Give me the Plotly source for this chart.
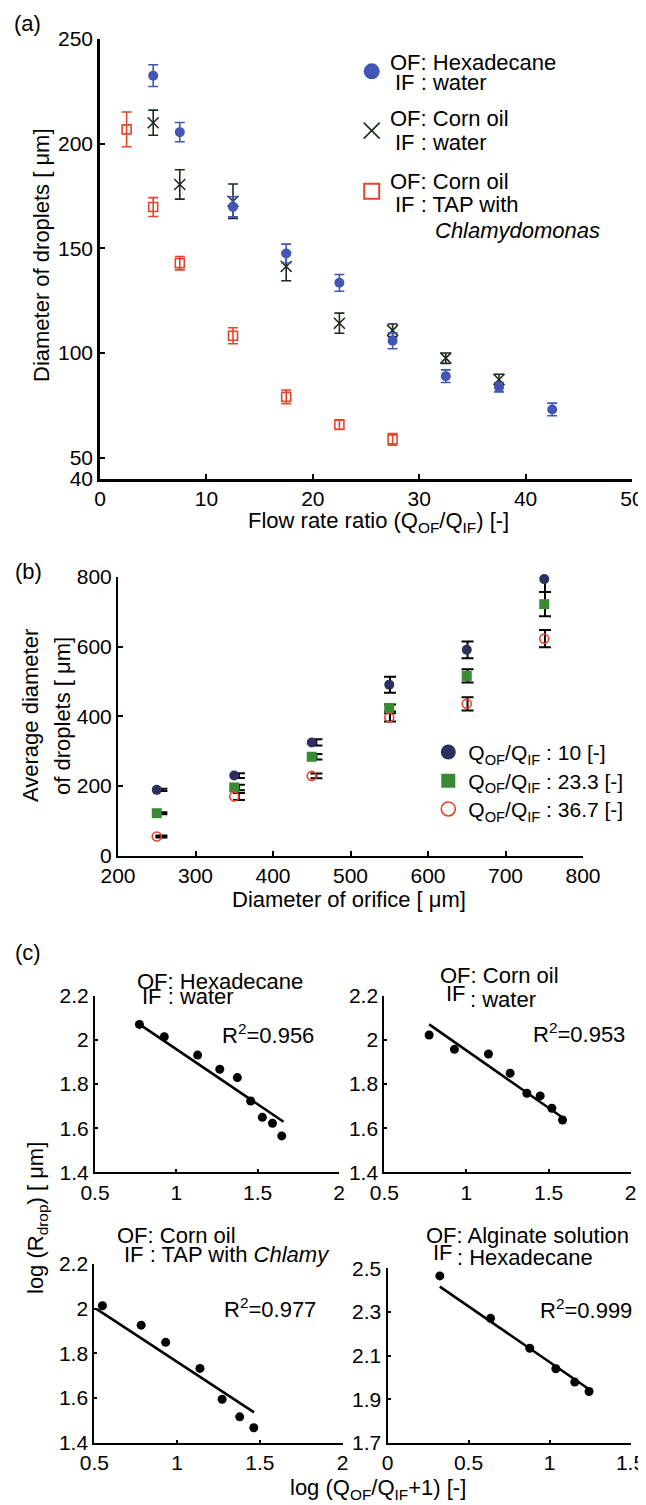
import plotly.graph_objects as go

# ---------------- data ----------------
# panel (a)
q_hex = [5, 7.5, 12.5, 17.5, 22.5, 27.5, 32.5, 37.5, 42.5]
d_hex = [232.5, 205.5, 169.8, 147.5, 133.5, 105.8, 88.9, 83.6, 73.0]
e_hex = [5.2, 4.6, 4.8, 4.5, 4.0, 3.8, 3.0, 2.2, 3.0]
q_corn = [5, 7.5, 12.5, 17.5, 22.5, 27.5, 32.5, 37.5]
d_corn = [210.0, 180.5, 172.5, 141.3, 114.2, 110.8, 97.5, 87.3]
e_corn = [6.0, 7.0, 8.2, 6.8, 4.8, 3.0, 2.5, 2.5]
q_tap = [2.5, 5, 7.5, 12.5, 17.5, 22.5, 27.5]
d_tap = [206.8, 169.7, 142.9, 108.2, 79.0, 65.7, 58.7]
e_tap = [8.3, 4.5, 3.2, 3.8, 3.3, 2.3, 2.8]

# panel (b)
orifice = [250, 350, 450, 550, 650, 750]
d_r10 = [189, 230, 325, 491, 591, 794]
e_r10 = [3, 7, 9, 23, 24, 37]
d_r23 = [122, 196, 284, 424, 516, 722]
e_r23 = [3, 8, 8, 10, 19, 35]
d_r37 = [55, 170, 229, 397, 436, 623]
e_r37 = [3, 10, 7, 12, 19, 25]

# panel (c)
c1_x = [0.773, 0.926, 1.131, 1.267, 1.375, 1.457, 1.529, 1.591, 1.648]
c1_y = [2.070, 2.014, 1.931, 1.867, 1.829, 1.723, 1.649, 1.622, 1.565]
c1_fit_x = [0.788, 1.659]
c1_fit_y = [2.063, 1.629]
c2_x = [0.773, 0.927, 1.134, 1.266, 1.368, 1.449, 1.520, 1.585]
c2_y = [2.022, 1.957, 1.936, 1.849, 1.758, 1.746, 1.690, 1.637]
c2_fit_x = [0.773, 1.591]
c2_fit_y = [2.070, 1.645]
c3_x = [0.549, 0.783, 0.931, 1.138, 1.272, 1.378, 1.463]
c3_y = [2.013, 1.926, 1.849, 1.732, 1.594, 1.515, 1.466]
c3_fit_x = [0.515, 1.465]
c3_fit_y = [1.998, 1.535]
c4_x = [0.323, 0.636, 0.878, 1.039, 1.156, 1.244]
c4_y = [2.465, 2.271, 2.134, 2.040, 1.979, 1.936]
c4_fit_x = [0.323, 1.249]
c4_fit_y = [2.416, 1.944]

# ---------------- style ----------------
PAGE_W, PAGE_H = 646, 1505
OFF = 8                      # default body margin of the html page
W, H = PAGE_W - OFF, PAGE_H - OFF
FONT = "Liberation Sans, Arial, Helvetica, sans-serif"
BLUE = "#4356B6"
DARK = "#1E2B1E"
RED = "#E8432D"
NAVY = "#2F2E5E"
GREEN = "#3A8A35"


def px(x):
    return (x - OFF) / W


def py(y):
    return 1 - (y - OFF) / H


fig = go.Figure()

# ---- panel (a) ----
fig.add_trace(go.Scatter(x=q_tap, y=d_tap, mode="markers", xaxis="x", yaxis="y",
                         marker=dict(symbol="square-open", size=9, color=RED, line=dict(width=1.6, color=RED)),
                         error_y=dict(type="data", array=e_tap, color=RED, thickness=1.6, width=5),
                         showlegend=False, cliponaxis=False))
fig.add_trace(go.Scatter(x=q_corn, y=d_corn, mode="markers", xaxis="x", yaxis="y",
                         marker=dict(symbol="x-thin", size=11, color=DARK, line=dict(width=1.6, color=DARK)),
                         error_y=dict(type="data", array=e_corn, color=DARK, thickness=1.6, width=5),
                         showlegend=False, cliponaxis=False))
fig.add_trace(go.Scatter(x=q_hex, y=d_hex, mode="markers", xaxis="x", yaxis="y",
                         marker=dict(symbol="circle", size=10, color=BLUE),
                         error_y=dict(type="data", array=e_hex, color=BLUE, thickness=1.6, width=5),
                         showlegend=False, cliponaxis=False))

# ---- panel (b) ----
b_series = [(d_r10, e_r10, dict(symbol="circle", size=10, color=NAVY)),
            (d_r23, e_r23, dict(symbol="square", size=10, color=GREEN)),
            (d_r37, e_r37, dict(symbol="circle-open", size=9, color=RED, line=dict(width=1.6, color=RED)))]
x_err_pos = [x + 6 if x < 500 else x + 1 for x in orifice]
for dv, ev, mk in b_series:
    fig.add_trace(go.Scatter(x=x_err_pos, y=dv, mode="markers", xaxis="x2", yaxis="y2",
                             marker=dict(size=1, color="rgba(0,0,0,0)"),
                             error_y=dict(type="data", array=ev, color="black", thickness=2, width=6),
                             showlegend=False, hoverinfo="skip", cliponaxis=False))
for dv, ev, mk in b_series:
    fig.add_trace(go.Scatter(x=orifice, y=dv, mode="markers", xaxis="x2", yaxis="y2",
                             marker=mk, showlegend=False, cliponaxis=False))

# ---- panel (c) ----
c_sets = [(c1_x, c1_y, c1_fit_x, c1_fit_y, "x3", "y3"),
          (c2_x, c2_y, c2_fit_x, c2_fit_y, "x4", "y4"),
          (c3_x, c3_y, c3_fit_x, c3_fit_y, "x5", "y5"),
          (c4_x, c4_y, c4_fit_x, c4_fit_y, "x6", "y6")]
for cx, cy, fx, fy, xa, ya in c_sets:
    fig.add_trace(go.Scatter(x=fx, y=fy, mode="lines", xaxis=xa, yaxis=ya,
                             line=dict(color="black", width=2.6), showlegend=False, cliponaxis=False))
    fig.add_trace(go.Scatter(x=cx, y=cy, mode="markers", xaxis=xa, yaxis=ya,
                             marker=dict(symbol="circle", size=9, color="black"),
                             showlegend=False, cliponaxis=False))

# ---- legend entries (one legend per entry for exact placement) ----
leg_specs = [
    ("legend", "x", "y", " ", dict(symbol="circle", size=16, color=BLUE), 371.7, 71.7),
    ("legend2", "x", "y", " ", dict(symbol="x-thin", size=16, color=DARK, line=dict(width=1.6, color=DARK)), 371.7, 131),
    ("legend3", "x", "y", " ", dict(symbol="square-open", size=15, color=RED, line=dict(width=2, color=RED)), 371.7, 191.7),
    ("legend4", "x2", "y2", "Q<sub>OF</sub>/Q<sub>IF</sub> : 10 [-]", dict(symbol="circle", size=15, color=NAVY), 448.3, 752.3),
    ("legend5", "x2", "y2", "Q<sub>OF</sub>/Q<sub>IF</sub> : 23.3 [-]", dict(symbol="square", size=14, color=GREEN), 448.3, 781),
    ("legend6", "x2", "y2", "Q<sub>OF</sub>/Q<sub>IF</sub> : 36.7 [-]", dict(symbol="circle-open", size=14, color=RED, line=dict(width=1.6, color=RED)), 448.3, 809.3),
]
legend_layout = {}
for lg, xa, ya, name, mk, mx, my in leg_specs:
    fig.add_trace(go.Scatter(x=[None], y=[None], mode="markers", xaxis=xa, yaxis=ya,
                             name=name, marker=mk, legend=lg, showlegend=True))
    legend_layout[lg] = dict(x=px(mx - 20), y=py(my), xanchor="left", yanchor="middle",
                             bgcolor="rgba(0,0,0,0)", borderwidth=0,
                             font=dict(family=FONT, size=21, color="black"))

# ---------------- axes ----------------
def axis_style(**kw):
    d = dict(showline=True, linecolor="black", linewidth=2, ticks="inside", ticklen=5,
             tickwidth=2, tickcolor="black", showgrid=False, zeroline=False, automargin=False,
             tickfont=dict(family=FONT, size=21, color="black"), mirror=False, fixedrange=True)
    d.update(kw)
    return d


layout_axes = dict(
    xaxis=axis_style(domain=[px(100), px(632)], range=[0, 50], tickvals=[0, 10, 20, 30, 40, 50],
                     anchor="y", linewidth=2.5),
    yaxis=axis_style(domain=[py(478.5), py(39)], range=[40, 250], tickvals=[40, 50, 100, 150, 200, 250],
                     anchor="x", linewidth=2.5),
    xaxis2=axis_style(domain=[px(118), px(583)], range=[200, 800], tickvals=[200, 300, 400, 500, 600, 700, 800],
                      anchor="y2"),
    yaxis2=axis_style(domain=[py(855.7), py(577)], range=[0, 800], tickvals=[0, 200, 400, 600, 800],
                      anchor="x2"),
    xaxis3=axis_style(domain=[px(95), px(339)], range=[0.5, 2], tickvals=[0.5, 1, 1.5, 2],
                      ticktext=["0.5", "1", "1.5", "2"], anchor="y3", ticklen=3),
    yaxis3=axis_style(domain=[py(1172.3), py(995.7)], range=[1.4, 2.2], tickvals=[1.4, 1.6, 1.8, 2.0, 2.2],
                      ticktext=["1.4", "1.6", "1.8", "2", "2.2"], anchor="x3", ticklen=3),
    xaxis4=axis_style(domain=[px(384.3), px(630.7)], range=[0.5, 2], tickvals=[0.5, 1, 1.5, 2],
                      ticktext=["0.5", "1", "1.5", "2"], anchor="y4", ticklen=3),
    yaxis4=axis_style(domain=[py(1172.3), py(995.7)], range=[1.4, 2.2], tickvals=[1.4, 1.6, 1.8, 2.0, 2.2],
                      ticktext=["1.4", "1.6", "1.8", "2", "2.2"], anchor="x4", ticklen=3),
    xaxis5=axis_style(domain=[px(94.3), px(342.7)], range=[0.5, 2], tickvals=[0.5, 1, 1.5, 2],
                      ticktext=["0.5", "1", "1.5", "2"], anchor="y5", ticklen=3),
    yaxis5=axis_style(domain=[py(1442.5), py(1264)], range=[1.4, 2.2], tickvals=[1.4, 1.6, 1.8, 2.0, 2.2],
                      ticktext=["1.4", "1.6", "1.8", "2", "2.2"], anchor="x5", ticklen=3),
    xaxis6=axis_style(domain=[px(387.5), px(630.5)], range=[0, 1.5], tickvals=[0, 0.5, 1, 1.5],
                      ticktext=["0", "0.5", "1", "1.5"], anchor="y6", ticklen=3),
    yaxis6=axis_style(domain=[py(1443), py(1268.3)], range=[1.7, 2.5], tickvals=[1.7, 1.9, 2.1, 2.3, 2.5],
                      ticktext=["1.7", "1.9", "2.1", "2.3", "2.5"], anchor="x6", ticklen=3),
)

# ---------------- annotations ----------------
ann = []


def text(t, x, y, xanchor="left", yanchor="middle", size=22, angle=0):
    ann.append(dict(text=t, x=px(x), y=py(y), xref="paper", yref="paper", xanchor=xanchor,
                    yanchor=yanchor, showarrow=False, textangle=angle,
                    font=dict(family=FONT, size=size, color="black")))


# panel labels
text("(a)", 12, 23)
text("(b)", 13, 572)
text("(c)", 13, 952)

# panel (a) legend texts
text("OF: Hexadecane", 387.7, 62.3)
text("IF : water", 393, 82.3)
text("OF: Corn oil", 387.7, 119)
text("IF : water", 393, 142.3)
text("OF: Corn oil", 387.7, 181.7)
text("IF : TAP with", 393, 204)
text("<i>Chlamydomonas</i>", 433, 231)

# axis titles
text("Diameter of droplets [ μm]", 42, 255, xanchor="center", angle=-90)
text("Flow rate ratio (Q<sub>OF</sub>/Q<sub>IF</sub>) [-]", 378, 522, xanchor="center")
text("Average diameter", 30, 716, xanchor="center", angle=-90)
text("of droplets [ μm]", 62, 716, xanchor="center", angle=-90)
text("Diameter of orifice [ μm]", 349, 899, xanchor="center")
text("log (R<sub>drop</sub>) [ μm]", 37, 1218, xanchor="center", angle=-90)
text("log (Q<sub>OF</sub>/Q<sub>IF</sub>+1) [-]", 378, 1489, xanchor="center")

# panel (c) titles
text("OF: Hexadecane", 135, 981)
text("IF : water", 140, 997)
text("R<sup>2</sup>=0.956", 220, 1034)
text("OF: Corn oil", 438, 975)
text("IF", 444, 994)
text(": water", 468, 999)
text("R<sup>2</sup>=0.953", 531, 1033)
text("OF: Corn oil", 115, 1235)
text("IF : TAP with <i>Chlamy</i>", 122, 1254)
text("R<sup>2</sup>=0.977", 222, 1308)
text("OF: Alginate solution", 424, 1235)
text("IF", 431, 1252)
text(": Hexadecane", 455, 1257)
text("R<sup>2</sup>=0.999", 538, 1309)

fig.update_layout(
    width=W, height=H, margin=dict(l=0, r=0, t=0, b=0, autoexpand=False),
    paper_bgcolor="white", plot_bgcolor="white",
    font=dict(family=FONT, size=21, color="black"),
    annotations=ann, **layout_axes, **legend_layout,
)

fig.write_html("out.html")
